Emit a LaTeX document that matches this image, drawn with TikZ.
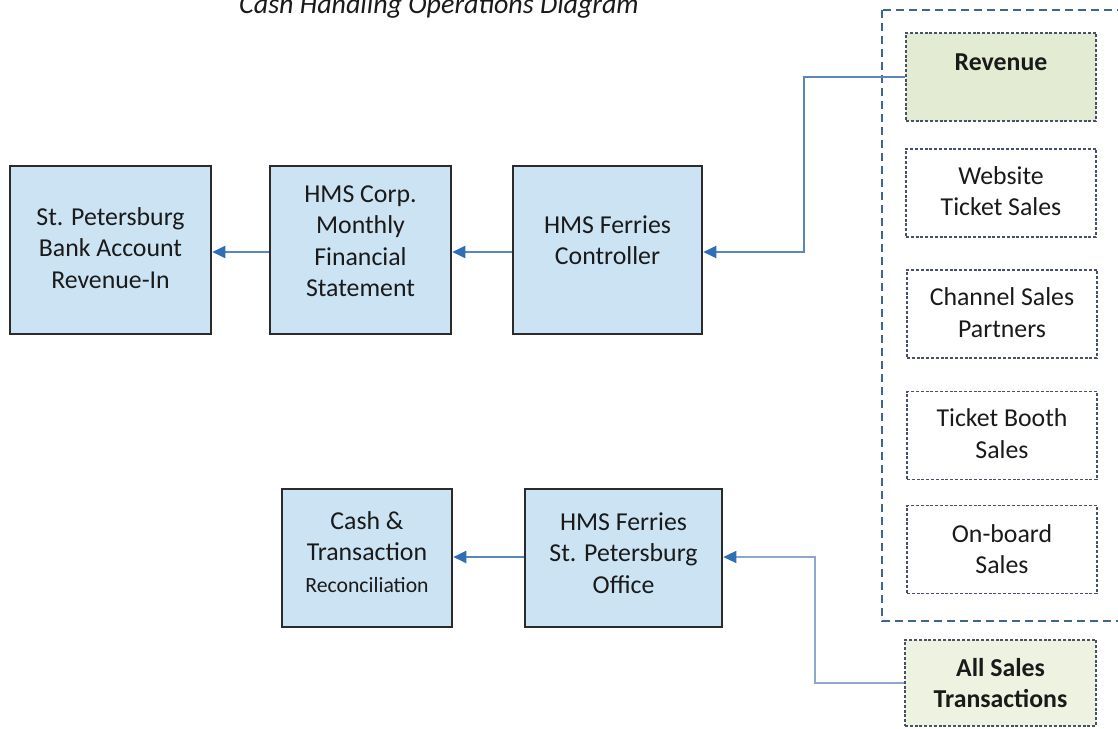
\documentclass[tikz,border=0pt]{standalone}
\usepackage{fontspec}
\setmainfont{Carlito}
\usetikzlibrary{arrows.meta}
\definecolor{boxfill}{HTML}{CBE3F3}
\definecolor{boxline}{HTML}{2B2B2B}
\definecolor{contline}{HTML}{3C6592}
\definecolor{innerline}{HTML}{475266}
\definecolor{revfill}{HTML}{E3ECD2}
\definecolor{allfill}{HTML}{EDF3E0}
\definecolor{connA}{HTML}{5A86BA}
\definecolor{connB}{HTML}{8EA8CC}
\definecolor{arrowc}{HTML}{2E6FB8}
\definecolor{txtc}{HTML}{1A1A1A}
\begin{document}
\begin{tikzpicture}[x=1pt,y=-1pt,
  procbox/.style={draw=boxline, line width=2.6pt, fill=boxfill, inner sep=0pt},
  srcbox/.style={draw=innerline, line width=1.8pt, dash pattern=on 3pt off 1.8pt,
     inner sep=0pt, minimum width=190pt, minimum height=88pt},
  lbl/.style={text=txtc, align=center, font=\fontsize{25.8}{31.5}\selectfont, inner sep=0pt},
  blbl/.style={lbl, font=\fontsize{25.8}{31.5}\selectfont\bfseries},
  container/.style={draw=contline, line width=2.8pt, dash pattern=on 8pt off 5pt},
  flowA/.style={draw=connA, line width=2pt,
     -{Triangle[length=13pt,width=12pt,color=arrowc]}},
  flowB/.style={draw=connB, line width=1.3pt,
     -{Triangle[length=13pt,width=12pt,color=arrowc]}},
]
\useasboundingbox (0,0) rectangle (1118,728);
\clip (0,0) rectangle (1118,728);
\fill[white] (0,0) rectangle (1118,728);

% title
\node[text=txtc, anchor=base, inner sep=0pt,
      font=\fontsize{28}{30}\selectfont\itshape] (title) at (439,13.5)
      {Cash Handling Operations Diagram};

% upper row
\node[procbox, minimum width=201pt, minimum height=168pt] (bank) at (110.5,250) {};
\node[lbl] (bankT) at (110.5,248) {St. Petersburg\\Bank Account\\Revenue-In};
\node[procbox, minimum width=181pt, minimum height=168pt] (corp) at (360.5,250) {};
\node[lbl] (corpT) at (360.5,241) {HMS Corp.\\Monthly\\Financial\\Statement};
\node[procbox, minimum width=189pt, minimum height=168pt] (ctrl) at (607.5,250) {};
\node[lbl] (ctrlT) at (607.5,240) {HMS Ferries\\Controller};

% lower row
\node[procbox, minimum width=170pt, minimum height=138pt] (recon) at (367,558) {};
\node[lbl] (reconT) at (367,552) {Cash \&\\Transaction\\{\fontsize{21.7}{26}\selectfont Reconciliation}};
\node[procbox, minimum width=197pt, minimum height=138pt] (office) at (623.5,558) {};
\node[lbl] (officeT) at (623.5,553) {HMS Ferries\\St. Petersburg\\Office};

% container of sources
\draw[container] (882,10) rectangle (1140,621);

\node[srcbox, fill=revfill] (rev) at (1001,77) {};
\node[blbl] (revT) at (1001,62) {Revenue};
\node[srcbox] (web) at (1001,193) {};
\node[lbl] (webT) at (1001,191) {Website\\Ticket Sales};
\node[srcbox] (chan) at (1002,314) {};
\node[lbl] (chanT) at (1002,312.5) {Channel Sales\\Partners};
\node[srcbox] (booth) at (1002,435.5) {};
\node[lbl] (boothT) at (1002,433.5) {Ticket Booth\\Sales};
\node[srcbox] (board) at (1002,549.5) {};
\node[lbl] (boardT) at (1002,549) {On-board\\Sales};

\node[srcbox, fill=allfill, minimum width=191pt, minimum height=86pt] (all) at (1000.5,683) {};
\node[blbl] (allT) at (1000.5,683) {All Sales\\Transactions};

% connectors
\coordinate (ua) at (0,252);
\coordinate (j1) at (804,252);
\coordinate (lb) at (0,557);
\coordinate (j2) at (815,557);

\draw[flowA] (rev.west) -| (j1) -- (ctrl.east |- j1);
\draw[flowA] (ctrl.west |- ua) -- (corp.east |- ua);
\draw[flowA] (corp.west |- ua) -- (bank.east |- ua);

\draw[flowB] (all.west) -| (j2) -- (office.east |- j2);
\draw[flowA] (office.west |- lb) -- (recon.east |- lb);
\end{tikzpicture}
\end{document}
